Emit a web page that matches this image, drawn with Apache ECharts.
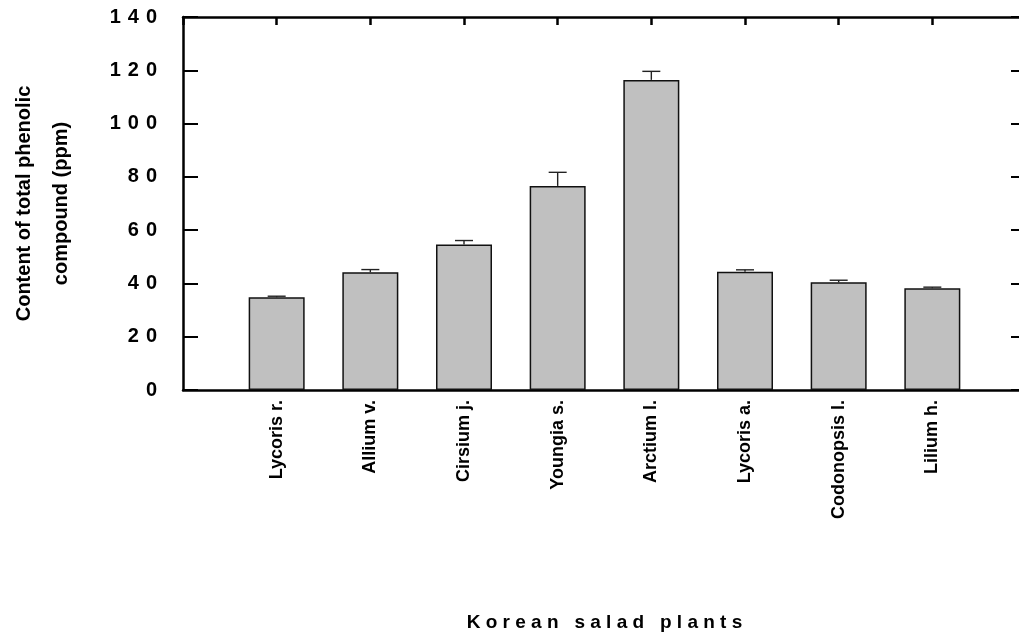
<!DOCTYPE html>
<html>
<head>
<meta charset="utf-8">
<script src="https://cdn.jsdelivr.net/npm/echarts@6/dist/echarts.min.js"></script>
<style>
  html, body { margin: 0; padding: 0; background: #fff; }
  #chart { width: 1019px; height: 634px; }
</style>
</head>
<body>
<div id="chart"></div>
<script>
// Total phenolic content of Korean salad plants (mean with SD)
const plants = ['Lycoris r.', 'Allium v.', 'Cirsium j.', 'Youngia s.', 'Arctium l.', 'Lycoris a.', 'Codonopsis l.', 'Lilium h.'];
const phenolic = [34.8, 44.2, 54.6, 76.6, 116.4, 44.4, 40.4, 38.2];
const stdDev = [0.4, 1.0, 1.5, 5.1, 3.2, 0.7, 0.8, 0.4];
const yTicks = { min: 0, max: 140, step: 20 };
const xTitle = 'Korean salad plants';
const yTitle = 'Content of total phenolic\ncompound (ppm)';

// plants sit on slots 1..n of a 0..n+1 axis
const slotMax = plants.length + 1;
const barData = phenolic.map((v, i) => [i + 1, v]);
const errData = phenolic.map((v, i) => [i + 1, v, stdDev[i]]);

const spaced = s => s.split(' ').map(w => w.split('').join(' ')).join('   ');
const digitLabel = v => String(v).split('').map(d => '{d|' + d + '}').join('');

const font = 'Liberation Sans, Arial, Helvetica, sans-serif';
const axisLine = { show: true, onZero: false, lineStyle: { color: '#000', width: 2.5 } };

const chart = echarts.init(document.getElementById('chart'), null, { renderer: 'canvas' });
chart.setOption({
  backgroundColor: '#fff',
  animation: false,
  grid: { left: 183, top: 17, width: 843, height: 373, containLabel: false, outerBoundsMode: 'none' },
  xAxis: [
    {
      type: 'value', position: 'bottom', min: 0, max: slotMax, interval: 1,
      axisLine: axisLine, axisTick: { show: false }, splitLine: { show: false },
      axisLabel: {
        rotate: 90, margin: 10, fontSize: 18, fontWeight: 'bold', color: '#000', fontFamily: font,
        formatter: v => (v >= 1 && v <= plants.length) ? plants[v - 1] : ''
      },
      name: spaced(xTitle), nameLocation: 'middle', nameGap: 223,
      nameTextStyle: { fontSize: 19, fontWeight: 'bold', color: '#000', fontFamily: font }
    },
    {
      type: 'value', position: 'top', min: 0, max: slotMax, interval: 1,
      axisLine: axisLine, axisLabel: { show: false }, splitLine: { show: false },
      axisTick: { show: true, inside: true, length: 8, lineStyle: { color: '#000', width: 2.5 } }
    }
  ],
  yAxis: [
    {
      type: 'value', position: 'left', min: yTicks.min, max: yTicks.max, interval: yTicks.step,
      axisLine: axisLine, splitLine: { show: false },
      axisTick: { show: true, inside: true, length: 15, lineStyle: { color: '#000', width: 2 } },
      axisLabel: {
        margin: 22.5, color: '#000', formatter: digitLabel,
        rich: { d: { fontSize: 20, fontWeight: 'bold', color: '#000', fontFamily: font, padding: [0, 3.5, 0, 3.5] } }
      },
      name: yTitle, nameLocation: 'middle', nameGap: 103, nameRotate: 90,
      nameTextStyle: { fontSize: 20, fontWeight: 'bold', color: '#000', fontFamily: font, lineHeight: 37, align: 'center' }
    },
    {
      type: 'value', position: 'right', min: yTicks.min, max: yTicks.max, interval: yTicks.step,
      axisLine: axisLine, splitLine: { show: false }, axisLabel: { show: false },
      axisTick: { show: true, inside: true, length: 15, lineStyle: { color: '#000', width: 2 } }
    }
  ],
  series: [
    {
      type: 'bar', xAxisIndex: 0, yAxisIndex: 0, data: barData, barWidth: 56,
      itemStyle: { color: '#c0c0c0', borderColor: '#111', borderWidth: 1.5 }
    },
    {
      type: 'custom', xAxisIndex: 0, yAxisIndex: 0, data: errData, z: 5,
      renderItem: function (params, api) {
        const x = api.value(0), v = api.value(1), e = api.value(2);
        const base = api.coord([x, v]);
        const top = api.coord([x, v + e]);
        const half = 9;
        const style = { stroke: '#222', lineWidth: 1.4 };
        return {
          type: 'group',
          children: [
            { type: 'line', shape: { x1: base[0], y1: base[1], x2: top[0], y2: top[1] }, style: style },
            { type: 'line', shape: { x1: top[0] - half, y1: top[1], x2: top[0] + half, y2: top[1] }, style: style }
          ]
        };
      }
    }
  ]
});
</script>
</body>
</html>
